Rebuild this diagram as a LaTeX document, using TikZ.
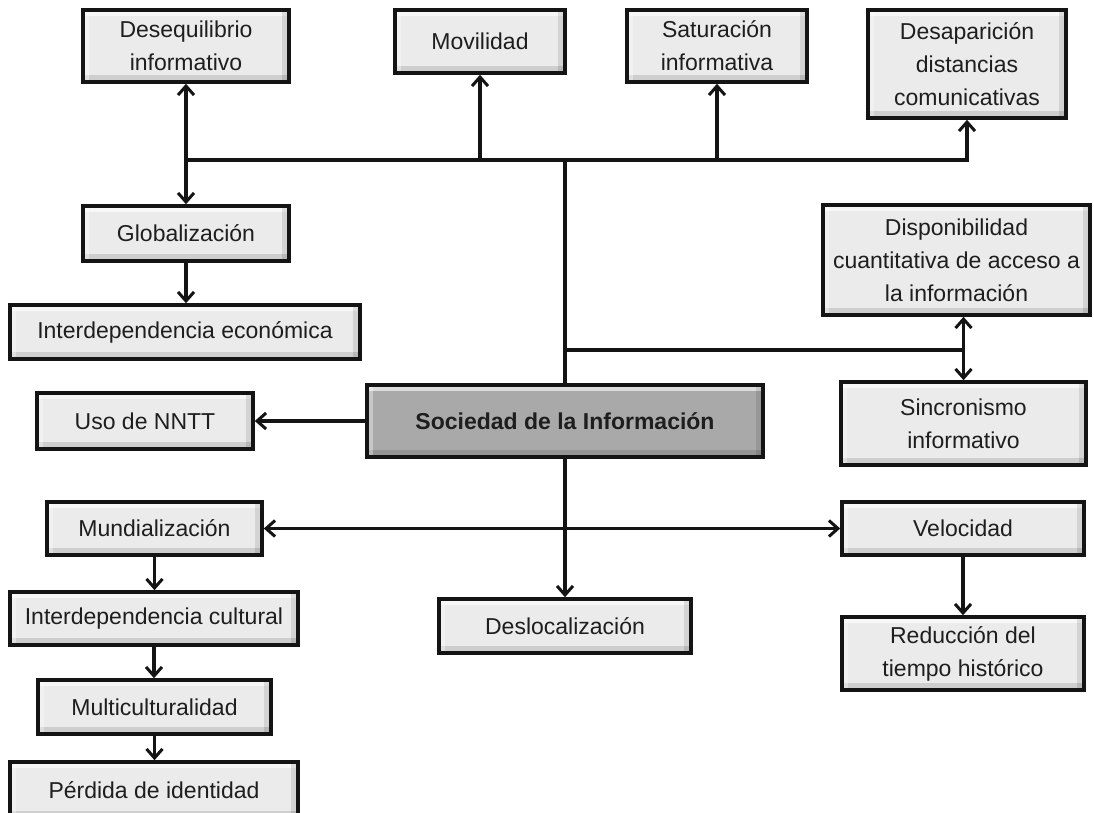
\documentclass[tikz,border=0pt]{standalone}
\usepackage{fontspec}
\setmainfont{Liberation Sans}
\usetikzlibrary{arrows.meta}
\definecolor{boxfill}{HTML}{EBEBEB}
\definecolor{hubfill}{HTML}{A9A9A9}
\definecolor{inktext}{HTML}{1E1E1E}
\tikzset{
  bevel/.style={path picture={
    \fill[white,opacity=.6] (path picture bounding box.north west) rectangle ([yshift=-6pt]path picture bounding box.north east);
    \fill[black,opacity=.12] ([yshift=7pt]path picture bounding box.south west) rectangle (path picture bounding box.south east);
    \fill[black,opacity=.10] ([xshift=-7pt]path picture bounding box.north east) rectangle (path picture bounding box.south east);
    \fill[white,opacity=.35] (path picture bounding box.north west) rectangle ([xshift=6pt]path picture bounding box.south west);
  }},
  cbox/.style={draw=black!92, line width=3.6pt, fill=boxfill, bevel, inner sep=0pt, align=center,
    text=inktext, font=\fontsize{23}{33}\selectfont},
  hub/.style={cbox, fill=hubfill, font=\fontsize{23}{33}\selectfont\bfseries},
  link/.style={line width=3.2pt, draw=black!92},
  tip/.style={link, -{Straight Barb[length=9pt,width=16pt,line width=3pt]}},
  dtip/.style={link, {Straight Barb[length=9pt,width=16pt,line width=3pt]}-{Straight Barb[length=9pt,width=16pt,line width=3pt]}},
}
\begin{document}
\begin{tikzpicture}[x=1pt,y=-1pt]
\useasboundingbox (0,0) rectangle (1094,813);
\fill[white] (0,0) rectangle (1094,813);

\node[cbox, minimum width=206, minimum height=72] (deseq) at (186,46) {Desequilibrio\\informativo};
\node[cbox, minimum width=170, minimum height=63] (movil) at (480,41.5) {Movilidad};
\node[cbox, minimum width=180, minimum height=72] (satur) at (717,46) {Saturación\\informativa};
\node[cbox, minimum width=198, minimum height=108] (desap) at (967,64) {Desaparición\\distancias\\comunicativas};
\node[cbox, minimum width=206, minimum height=55] (glob) at (186,233.5) {Globalización};
\node[cbox, minimum width=350, minimum height=54] (iecon) at (185,332) {Interdependencia económica};
\node[cbox, minimum width=216, minimum height=56] (uso) at (145,421) {Uso de NNTT};
\node[hub, minimum width=396, minimum height=72] (soc) at (565,421) {Sociedad de la Información};
\node[cbox, minimum width=267, minimum height=110] (dispo) at (956.5,260) {Disponibilidad\\cuantitativa de acceso a\\la información};
\node[cbox, minimum width=245, minimum height=83] (sincro) at (963.5,423.5) {Sincronismo\\informativo};
\node[cbox, minimum width=215, minimum height=53] (mund) at (154.5,528.5) {Mundialización};
\node[cbox, minimum width=242, minimum height=53] (veloc) at (963,528.5) {Velocidad};
\node[cbox, minimum width=252, minimum height=54] (desloc) at (565,626) {Deslocalización};
\node[cbox, minimum width=288, minimum height=53] (icult) at (154,618.5) {Interdependencia cultural};
\node[cbox, minimum width=233, minimum height=54] (multi) at (154.5,707) {Multiculturalidad};
\node[cbox, minimum width=288, minimum height=56] (perd) at (154,790) {Pérdida de identidad};
\node[cbox, minimum width=242, minimum height=73] (reduc) at (963,653.5) {Reducción del\\tiempo histórico};

% top distribution
\coordinate (top) at (soc.north |- 0,160);
\coordinate (topL) at (deseq.south |- top);
\coordinate (topR) at (desap.south |- top);
\draw[link] (soc.north) -- (top);
\draw[link, line cap=rect] (topL) -- (topR);
\draw[dtip] (deseq.south) -- (glob.north);
\draw[tip] (movil.south |- top) -- (movil.south);
\draw[tip] (satur.south |- top) -- (satur.south);
\draw[tip] (topR) -- (desap.south);
\draw[tip] (glob.south) -- (glob.south |- iecon.north);

% right branch
\coordinate (mid) at (soc.north |- 0,350);
\coordinate (midR) at (sincro.north |- mid);
\draw[link] (mid) -- (midR);
\draw[dtip] (sincro.north |- dispo.south) -- (sincro.north);

% center
\draw[tip] (soc.west) -- (uso.east);
\draw[tip] (soc.south) -- (desloc.north);
\draw[dtip] (mund.east) -- (veloc.west);
\draw[tip] (veloc.south) -- (reduc.north);

% left chain
\draw[tip] (mund.south) -- (mund.south |- icult.north);
\draw[tip] (icult.south) -- (icult.south |- multi.north);
\draw[tip] (multi.south) -- (multi.south |- perd.north);
\end{tikzpicture}
\end{document}
